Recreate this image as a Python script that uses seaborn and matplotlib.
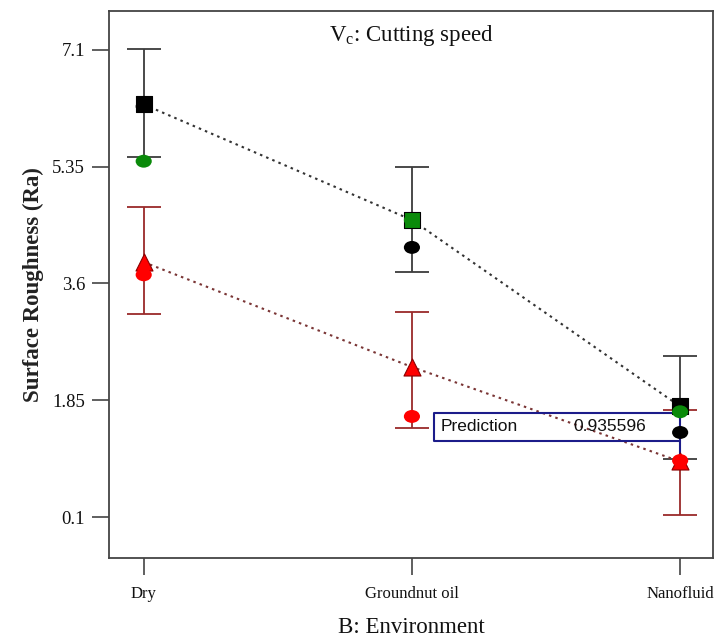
import numpy as np
import pandas as pd
import matplotlib
matplotlib.use("Agg")
import matplotlib.pyplot as plt
from matplotlib.path import Path
from matplotlib.transforms import Affine2D
import seaborn as sns

# Interaction plot: surface roughness vs. machining environment at two cutting speeds
environments = ["Dry", "Groundnut oil", "Nanofluid"]

# Low cutting speed (squares, black dotted line) with LSD bars
low_mean = [6.28, 4.55, 1.76]
low_lower = [5.50, 3.77, 0.98]
low_upper = [7.11, 5.35, 2.52]
low_square_colors = ["black", "#0a8a0a", "black"]

# High cutting speed (triangles, red dotted line) with LSD bars
high_mean = [3.92, 2.35, 0.935596]
high_lower = [3.14, 1.44, 0.13]
high_upper = [4.74, 3.17, 1.71]

# Design points
black_points = [6.25, 4.14, 1.37]
green_points = [5.43, 4.55, 1.68]
red_points = [3.73, 1.61, 0.95]

y_ticks = [0.1, 1.85, 3.6, 5.35, 7.1]
y_tick_labels = ["0.1", "1.85", "3.6", "5.35", "7.1"]

prediction_value = 0.935596

sns.set_theme(style="white")
plt.rcParams["font.family"] = ["Liberation Serif", "DejaVu Serif"]
plt.rcParams["mathtext.fontset"] = "custom"
plt.rcParams["mathtext.rm"] = "Liberation Serif"
plt.rcParams["mathtext.it"] = "Liberation Serif"

fig = plt.figure(figsize=(7.16, 6.4), dpi=100)
ax = fig.add_axes([0.152, 0.128, 0.844, 0.855])

xpos = np.arange(len(environments))
low_df = pd.DataFrame({"x": xpos, "y": low_mean, "c": low_square_colors})
high_df = pd.DataFrame({"x": xpos, "y": high_mean})

# LSD error bars
ax.errorbar(xpos, low_mean,
            yerr=[np.array(low_mean) - np.array(low_lower), np.array(low_upper) - np.array(low_mean)],
            fmt="none", ecolor="#3c3c3c", elinewidth=1.3, capsize=12, capthick=1.3, zorder=2)
ax.errorbar(xpos, high_mean,
            yerr=[np.array(high_mean) - np.array(high_lower), np.array(high_upper) - np.array(high_mean)],
            fmt="none", ecolor="#9a2a2a", elinewidth=1.3, capsize=12, capthick=1.3, zorder=2)

# Dotted connecting lines
sns.lineplot(data=low_df, x="x", y="y", ax=ax, color="#333333", linestyle=(0, (1.2, 2.0)),
             linewidth=1.5, zorder=3, legend=False)
sns.lineplot(data=high_df, x="x", y="y", ax=ax, color="#7a3535", linestyle=(0, (1.2, 2.0)),
             linewidth=1.5, zorder=3, legend=False)

# Mean markers
sns.scatterplot(data=low_df, x="x", y="y", hue="c", palette={c: c for c in set(low_square_colors)},
                marker="s", s=135, edgecolor="black", linewidth=0.8, ax=ax, zorder=4, legend=False)
sns.scatterplot(data=high_df, x="x", y="y", color="#ff0000", marker="^", s=150,
                edgecolor="#8a0000", linewidth=0.8, ax=ax, zorder=4, legend=False)

# Design points drawn as slightly flattened circles
ellipse = Path.unit_circle().transformed(Affine2D().scale(1.25, 1.0))
for vals, col in [(black_points, "black"), (green_points, "#0a8a0a"), (red_points, "#ff0000")]:
    sns.scatterplot(x=xpos, y=vals, color=col, marker=ellipse, s=135, edgecolor="none",
                    ax=ax, zorder=5, legend=False)

# Prediction readout box
box_left, box_right = 1.082, 2.0
box_top, box_bottom = 1.667, 1.249
ax.plot([box_right, box_left, box_left, box_right, box_right],
        [box_top, box_top, box_bottom, box_bottom, box_top],
        color="#1c1c8a", linewidth=1.5, zorder=3.5)
ax.plot([box_right, box_right], [box_bottom, prediction_value], color="#1c1c8a",
        linewidth=1.5, zorder=3.5)
ax.text(box_left + 0.025, (box_top + box_bottom) / 2, "Prediction", family="Liberation Sans",
        fontsize=12.5, va="center", ha="left", color="#111111", zorder=6)
ax.text(1.873, (box_top + box_bottom) / 2, f"{prediction_value:.6f}", family="Liberation Sans",
        fontsize=12.5, va="center", ha="right", color="#111111", zorder=6)

# Title inside the frame
ax.text(0.5, 0.955, r"V$_{\mathrm{c}}$: Cutting speed", transform=ax.transAxes,
        ha="center", va="center", fontsize=16.5, color="#111111")

ax.set_xlim(-0.13, 2.123)
ax.set_ylim(-0.51, 7.68)
ax.set_xticks(xpos)
ax.set_xticklabels(environments, fontsize=12)
ax.set_yticks(y_ticks)
ax.set_yticklabels(y_tick_labels, fontsize=13.5)
ax.tick_params(axis="y", direction="out", length=12, width=1.2, color="#444444", pad=5,
               left=True, labelcolor="#111111")
ax.tick_params(axis="x", direction="out", length=12, width=1.2, color="#444444", pad=8,
               bottom=True, labelcolor="#111111")
for sp in ax.spines.values():
    sp.set_visible(True)
    sp.set_color("#444444")
    sp.set_linewidth(1.3)

ax.set_xlabel("B: Environment", fontsize=16.5, color="#111111", labelpad=11)
ax.set_ylabel("Surface Roughness (Ra)", fontsize=16.5, fontweight="bold", color="#222222",
              labelpad=6)
ax.grid(False)

fig.savefig("out.png", dpi=100, facecolor="white")
